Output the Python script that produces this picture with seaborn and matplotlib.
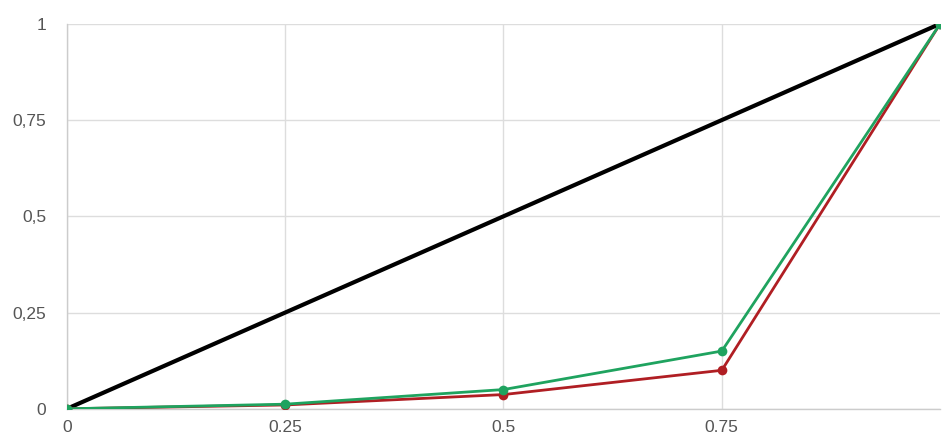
import pandas as pd
import seaborn as sns
import matplotlib.pyplot as plt

# values
x_vals = [0, 0.25, 0.5, 0.75, 1]
black_vals = [0, 0.25, 0.5, 0.75, 1]
red_vals = [0, 0.01, 0.037, 0.10, 1]
green_vals = [0, 0.012, 0.05, 0.15, 1]

x_ticks = [0, 0.25, 0.5, 0.75]
x_labels = ['0', '0.25', '0.5', '0.75']
y_ticks = [0, 0.25, 0.5, 0.75, 1]
y_labels = ['0', '0,25', '0,5', '0,75', '1']

df = pd.DataFrame({'x': x_vals, 'black': black_vals, 'red': red_vals, 'green': green_vals})

sns.set_style('white')
plt.rcParams['font.family'] = ['Liberation Sans', 'DejaVu Sans']

fig = plt.figure(figsize=(9.42, 4.41), dpi=100)
ax = fig.add_axes([0.071, 0.073, 0.927, 0.873])

sns.lineplot(data=df, x='x', y='black', color='black', linewidth=3, ax=ax, zorder=3)
sns.lineplot(data=df, x='x', y='red', color='#b01e23', linewidth=2, marker='o',
             markersize=7, markeredgewidth=0, ax=ax, zorder=4)
sns.lineplot(data=df, x='x', y='green', color='#1fa35f', linewidth=2, marker='o',
             markersize=7, markeredgewidth=0, ax=ax, zorder=5)

ax.set_xlim(0, 1)
ax.set_ylim(0, 1)
ax.set_xticks(x_ticks)
ax.set_xticklabels(x_labels)
ax.set_yticks(y_ticks)
ax.set_yticklabels(y_labels)
ax.set_xlabel('')
ax.set_ylabel('')
ax.grid(True, color='#dddddd', linewidth=1)
ax.tick_params(length=0, labelsize=12.5, labelcolor='#555555', pad=8)
ax.tick_params(axis='y', pad=15)
for side in ['top', 'right']:
    ax.spines[side].set_visible(False)
for side in ['left', 'bottom']:
    ax.spines[side].set_color('#cccccc')
    ax.spines[side].set_linewidth(1)

plt.savefig('out.png', dpi=100)
plt.close()
